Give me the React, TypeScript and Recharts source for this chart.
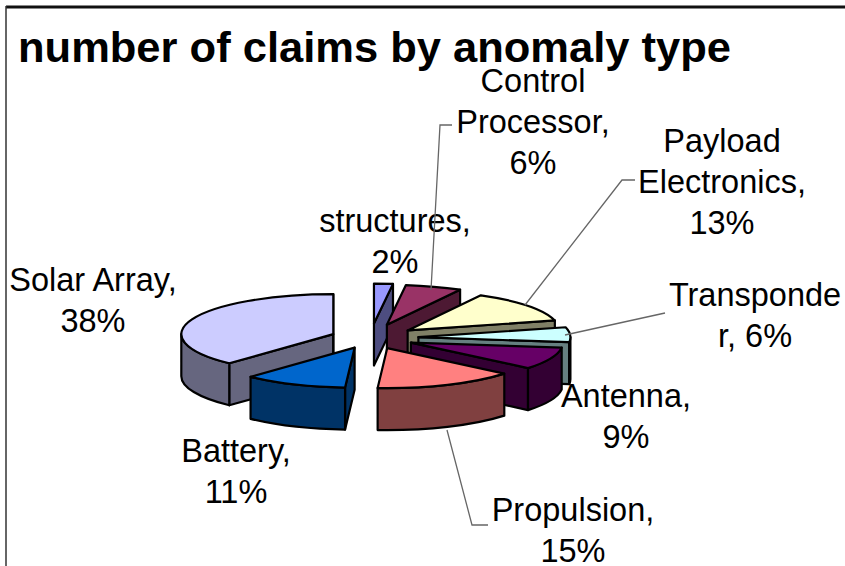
import React from "react";
import { PieChart, Pie } from "recharts";

// clockwise order, starting at the slice drawn furthest back so overlaps paint correctly
const names = ["Solar Array", "structures", "Control Processor", "Payload Electronics", "Transponder", "Antenna", "Propulsion", "Battery"];
const values = [38, 2, 6, 13, 6, 9, 15, 11];
const topColors = ["#CCCCFF", "#9999FF", "#993366", "#FFFFCC", "#CCFFFF", "#660066", "#FF8080", "#0066CC"];
const sideColors = ["#66667F", "#4D4D80", "#4D1933", "#808066", "#668080", "#330033", "#804040", "#003366"];
const explode = [40, 55, 53, 47, 48, 44, 42, 40];
const labelLines = [
  ["Solar Array,", "38%"],
  ["structures,", "2%"],
  ["Control", "Processor,", "6%"],
  ["Payload", "Electronics,", "13%"],
  ["Transponde", "r, 6%"],
  ["Antenna,", "9%"],
  ["Propulsion,", "15%"],
  ["Battery,", "11%"],
];
const labelX = [93, 395, 533, 722, 755, 626, 573, 236];
const labelY = [291, 232, 92, 152, 306, 407, 521, 462];
const leaders: (string | null)[] = [
  null,
  null,
  "431,290 440,125 452,125",
  "525,305 622,180 635,180",
  "565,335 665,313",
  null,
  "447,430 472,525 488,525",
  null,
];

const W = 845;
const H = 566;
const CX = 370.5;
const CY = 338;
const RX = 152;
const RY = 40;
const DEPTH = 42;
const LINE_GAP = 41;
const FONT = "'Liberation Sans', Arial, sans-serif";
const rad = (d: number) => (d * Math.PI) / 180;

const Slice3D = (props: any) => {
  const { startAngle, endAngle, cx, cy } = props;
  const i = names.indexOf(props.name ?? props.payload?.name);
  const mid = rad((startAngle + endAngle) / 2);
  const ratio = RY / RX;
  const ax = cx + Math.cos(mid) * explode[i];
  const ay = cy - Math.sin(mid) * explode[i] * ratio;
  const pt = (deg: number, dz = 0): [number, number] => [
    ax + RX * Math.cos(rad(deg)),
    ay - RY * Math.sin(rad(deg)) + dz,
  ];
  const arc = (from: number, to: number, dz = 0) => {
    const [x, y] = pt(to, dz);
    const sweep = to < from ? 1 : 0;
    const large = Math.abs(to - from) > 180 ? 1 : 0;
    return `A ${RX} ${RY} 0 ${large} ${sweep} ${x} ${y}`;
  };
  const [sx, sy] = pt(startAngle);
  const stroke = { stroke: "#000", strokeWidth: 2.2, strokeLinejoin: "round" as const };
  const wall = (deg: number) => {
    const [x, y] = pt(deg);
    return (
      <path
        d={`M ${ax} ${ay} L ${x} ${y} L ${x} ${y + DEPTH} L ${ax} ${ay + DEPTH} Z`}
        fill={sideColors[i]}
        {...stroke}
      />
    );
  };

  // front part of the outer wall: angles where the rim faces the viewer
  const norm = (d: number) => ((d % 360) + 360) % 360;
  const segs: [number, number][] = [];
  for (const k of [-720, -360, 0]) {
    const hi = Math.min(startAngle, k + 360);
    const lo = Math.max(endAngle, k + 180);
    if (hi > lo) segs.push([hi, lo]);
  }
  const startVisible = Math.cos(rad(norm(startAngle))) < 0;
  const endVisible = Math.cos(rad(norm(endAngle))) > 0;

  return (
    <g>
      {startVisible && wall(startAngle)}
      {endVisible && wall(endAngle)}
      {segs.map(([a, b], n) => {
        const [x0, y0] = pt(a);
        const [x1, y1] = pt(b, DEPTH);
        return (
          <path
            key={n}
            d={`M ${x0} ${y0} ${arc(a, b)} L ${x1} ${y1} ${arc(b, a, DEPTH)} Z`}
            fill={sideColors[i]}
            {...stroke}
          />
        );
      })}
      <path
        d={`M ${ax} ${ay} L ${sx} ${sy} ${arc(startAngle, endAngle)} Z`}
        fill={topColors[i]}
        {...stroke}
      />
    </g>
  );
};

const SliceLabel = (props: any) => {
  const i = props.index;
  return (
    <g>
      {leaders[i] && <polyline points={leaders[i]!} fill="none" stroke="#666" strokeWidth={1.3} />}
      <text textAnchor="middle" fontFamily={FONT} fontSize={32.5} fill="#000">
        {labelLines[i].map((t, n) => (
          <tspan key={n} x={labelX[i]} y={labelY[i] + n * LINE_GAP}>
            {t}
          </tspan>
        ))}
      </text>
    </g>
  );
};

const data = names.map((name, i) => ({ name, value: values[i] }));
const solarShare = (values[0] / values.reduce((a, b) => a + b, 0)) * 360;
const START = 90 + solarShare;

export default function App() {
  return (
    <div style={{ position: "absolute", left: 0, top: 0, width: W, height: H, background: "#fff", overflow: "hidden" }}>
      <PieChart width={W} height={H} margin={{ top: 0, right: 0, bottom: 0, left: 0 }}>
        <line x1={6} y1={7} x2={W} y2={7} stroke="#111" strokeWidth={3} />
        <line x1={6} y1={6} x2={6} y2={H} stroke="#333" strokeWidth={1.5} />
        <text x={18} y={62} fontFamily={FONT} fontWeight="bold" fontSize={43} textLength={713} lengthAdjust="spacingAndGlyphs" fill="#000">
          number of claims by anomaly type
        </text>
        <Pie
          data={data}
          dataKey="value"
          nameKey="name"
          cx={CX}
          cy={CY}
          outerRadius={RX}
          startAngle={START}
          endAngle={START - 360}
          shape={Slice3D}
          label={SliceLabel}
          labelLine={false}
          isAnimationActive={false}
        />
      </PieChart>
    </div>
  );
}
